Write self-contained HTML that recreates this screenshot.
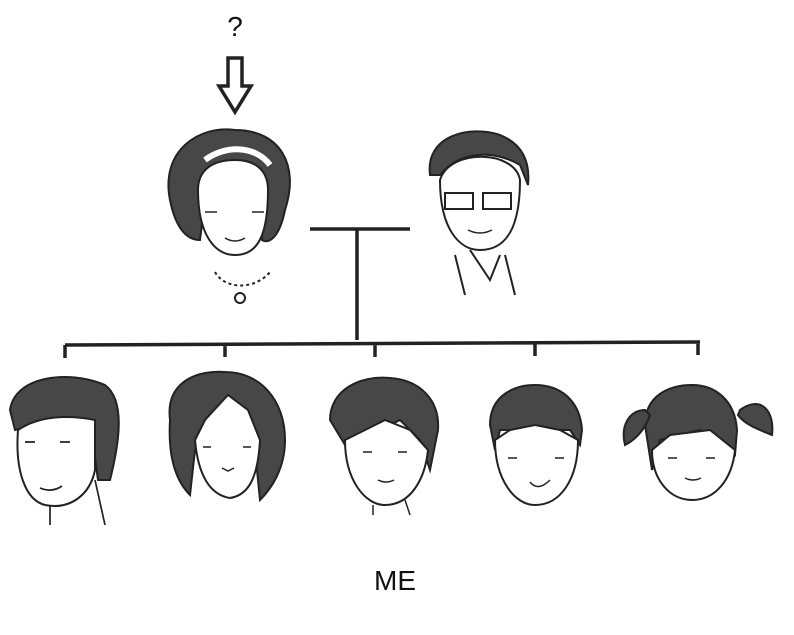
<!DOCTYPE html>
<html><head><style>body{margin:0;background:#fff}svg{display:block}</style></head><body>
<svg width="794" height="635" viewBox="0 0 794 635" xmlns="http://www.w3.org/2000/svg">
<g stroke="#222" stroke-width="2" fill="none">
<text x="235" y="36" font-family="Liberation Sans, sans-serif" font-size="28" fill="#111" stroke="none" text-anchor="middle">?</text>
<path d="M228 58 H242 V86 H251 L235 112 L219 86 H228 Z" stroke-width="3.5"/>
<!-- grandma -->
<path d="M170 200 C160 150 200 125 235 130 C280 130 300 165 285 210 C280 235 270 245 262 240 L262 200 L205 200 L200 240 C185 240 175 225 170 200Z" fill="#474747"/>
<path d="M198 190 C198 235 215 255 235 255 C258 255 268 235 268 190 C268 170 255 160 235 160 C210 160 198 172 198 190Z" fill="#fff"/>
<path d="M205 160 C225 145 255 145 270 165" stroke="#fff" stroke-width="6"/>
<path d="M205 212 h12 M252 212 h12 M225 238 q10 6 20 0" stroke-width="1.5"/>
<path d="M215 272 C225 290 255 290 270 272" stroke-dasharray="3 3"/>
<circle cx="240" cy="298" r="5"/>
<!-- grandpa -->
<path d="M430 175 C425 135 470 125 500 135 C525 145 530 165 528 185 L520 165 C495 150 460 150 440 175Z" fill="#474747"/>
<path d="M440 180 C440 230 460 250 480 250 C505 250 520 230 520 180 C515 150 450 148 440 180Z" fill="#fff"/>
<rect x="445" y="193" width="28" height="16"/><rect x="483" y="193" width="28" height="16"/>
<path d="M468 230 q12 6 24 0" stroke-width="1.5"/>
<path d="M455 255 L465 295 M505 255 L515 295 M470 250 L490 280 L500 255"/>
<!-- lines -->
<path d="M310 229 H410 M357 229 V340 M65 345 L700 342 M65 345 V358 M225 344 V357 M375 344 V357 M535 343 V356 M698 342 V355" stroke-width="3.5"/>
<!-- kids -->
<path d="M10 410 C15 375 70 370 105 385 C125 400 120 440 110 480 L98 480 L90 420 L50 420 L15 430Z" fill="#474747"/>
<path d="M18 430 C15 470 25 500 45 505 C70 510 90 495 95 470 L95 420 C70 415 40 415 18 430Z" fill="#fff"/>
<path d="M50 505 V525 M95 480 L105 525 M25 442 h10 M60 442 h10 M40 488 q12 5 22 -2" stroke-width="1.7"/>
<path d="M170 420 C165 380 200 370 225 372 C260 372 285 400 285 440 C285 470 270 490 260 500 L255 450 L195 450 L190 495 C175 480 168 455 170 420Z" fill="#474747"/>
<path d="M195 440 C198 475 210 495 230 498 C250 495 258 475 260 440 L248 410 L228 395 L205 420Z" fill="#fff"/>
<path d="M203 447 h8 M243 447 h8 M222 468 l6 3 l6 -3" stroke-width="1.5"/>
<path d="M330 420 C330 390 360 375 390 378 C420 380 440 400 438 430 L430 470 L420 440 L400 420 L380 430 L345 445 Z" fill="#474747"/>
<path d="M345 440 C345 480 365 505 385 505 C410 505 425 480 428 450 L410 430 L385 420 Z" fill="#fff"/>
<path d="M373 505 V515 M405 500 L410 515 M363 452 h9 M398 452 h9 M378 480 q8 4 16 0" stroke-width="1.5"/>
<path d="M490 425 C490 395 515 385 535 385 C560 385 580 400 582 430 L580 445 L570 430 L500 430 L495 450Z" fill="#474747"/>
<path d="M495 440 C495 480 515 505 535 505 C560 505 578 480 578 440 L560 430 L535 425 L510 430Z" fill="#fff"/>
<path d="M508 458 h9 M555 458 h9 M530 482 q8 10 20 -2" stroke-width="1.5"/>
<path d="M645 425 C645 395 670 385 692 385 C715 385 735 400 737 430 L735 455 L700 430 L660 440 L652 470Z" fill="#474747"/>
<path d="M652 450 C652 480 670 500 692 500 C715 500 732 480 735 450 L710 430 L670 435Z" fill="#fff"/>
<path d="M668 458 h9 M706 458 h9 M685 478 q8 4 16 0" stroke-width="1.5"/>
<path d="M645 410 C630 410 620 425 625 445 C635 440 645 430 650 415Z M740 410 C760 395 775 410 772 435 C760 430 745 425 738 415Z" fill="#474747"/>
</g>
<text x="395" y="590" font-family="Liberation Sans, sans-serif" font-size="28" fill="#111" text-anchor="middle">ME</text>
</svg>
</body></html>
